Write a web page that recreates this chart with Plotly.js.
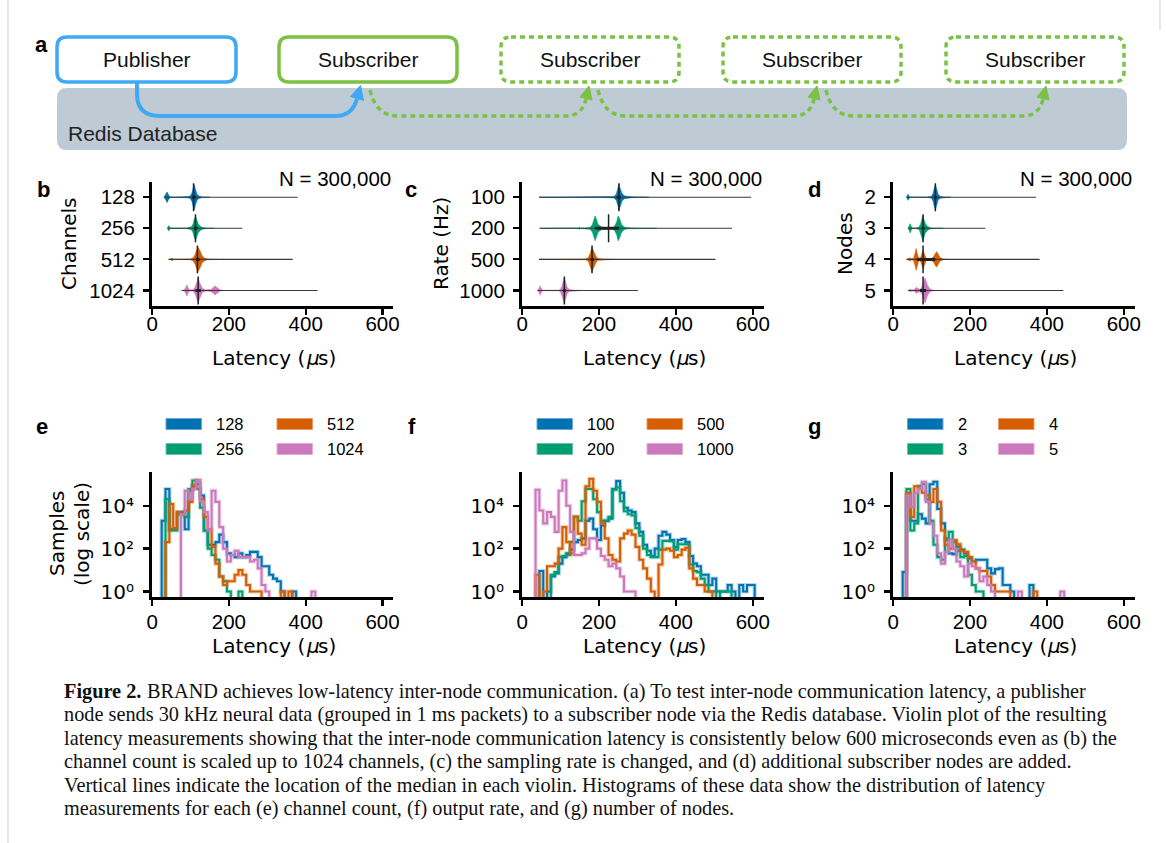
<!DOCTYPE html>
<html><head><meta charset="utf-8">
<script src="https://cdn.plot.ly/plotly-3.0.1.min.js"></script>
<style>html,body{margin:0;padding:0;background:#fff}#chart{width:1166px;height:843px}</style>
</head><body><div id="chart"></div>
<script>
const W = 1166, H = 843;
const palette = ['#0173B2', '#029E73', '#D55E00', '#CC78BC'];
const paletteEdge = ['#6aa6d0', '#68c3a6', '#e89a6a', '#e0acd6'];

// ---------- Violin panel b (channels) ----------
const channelCats = ['128', '256', '512', '1024'];
const channelMedian = [108, 113, 118, 120];
const channelQ1 = [104, 109, 114, 113];
const channelQ3 = [114, 118, 124, 127];
const channelMin = [31, 40, 43, 77];
const channelMax = [379, 235, 366, 431];
const channelProfileX = [
  [31, 35, 39, 43, 47, 60, 80, 95, 100, 104, 107, 110, 113, 117, 122, 130, 150],
  [40, 43.5, 47, 60, 90, 103, 107, 110, 113, 116, 120, 125, 131, 140, 160],
  [43.5, 49, 52, 55, 70, 100, 107, 112, 116, 120, 124, 130, 137, 145, 170],
  [77, 84, 88, 90.5, 93, 97, 105, 111, 116, 120, 124, 131, 140, 153, 160, 164, 168, 177, 190]
];
const channelProfileW = [
  [0, 0.07, 0.17, 0.07, 0.01, 0.005, 0.01, 0.02, 0.05, 0.14, 0.3, 0.4, 0.25, 0.1, 0.04, 0.01, 0],
  [0, 0.09, 0.005, 0.004, 0.01, 0.05, 0.15, 0.3, 0.38, 0.28, 0.15, 0.07, 0.03, 0.01, 0],
  [0, 0.01, 0.05, 0.005, 0.003, 0.01, 0.05, 0.15, 0.3, 0.38, 0.3, 0.12, 0.04, 0.01, 0],
  [0, 0.02, 0.1, 0.18, 0.1, 0.02, 0.02, 0.08, 0.25, 0.4, 0.25, 0.06, 0.02, 0.03, 0.1, 0.15, 0.1, 0.02, 0]
];

// ---------- Violin panel c (rate) ----------
const rateCats = ['100', '200', '500', '1000'];
const rateMedian = [252, 225, 182, 110];
const rateQ1 = [246, 190, 178, 106];
const rateQ3 = [257, 252, 187, 114];
const rateMin = [44, 46, 44, 40];
const rateMax = [596, 546, 503, 301];
const rateProfileX = [
  [44, 100, 200, 239, 245, 249, 252, 255, 260, 266, 272, 285, 307, 330],
  [46, 140, 146, 149, 152, 165, 177, 183, 187, 190, 193, 198, 207, 215, 235, 240, 246, 250, 254, 259, 266, 275, 300, 350],
  [44, 120, 165, 172, 177, 180, 182, 184, 188, 193, 198, 210, 240],
  [40, 44, 47, 50, 54, 70, 95, 100, 104, 107, 110, 113, 117, 123, 135, 160]
];
const rateProfileW = [
  [0, 0.002, 0.003, 0.02, 0.1, 0.25, 0.42, 0.28, 0.12, 0.05, 0.03, 0.015, 0.005, 0],
  [0, 0.003, 0.01, 0.03, 0.01, 0.01, 0.03, 0.12, 0.28, 0.4, 0.3, 0.12, 0.04, 0.02, 0.02, 0.06, 0.2, 0.4, 0.3, 0.12, 0.04, 0.015, 0.005, 0],
  [0, 0.002, 0.01, 0.05, 0.18, 0.32, 0.4, 0.33, 0.2, 0.08, 0.03, 0.01, 0],
  [0, 0.06, 0.15, 0.06, 0.005, 0.004, 0.01, 0.04, 0.15, 0.3, 0.4, 0.28, 0.1, 0.03, 0.01, 0]
];

// ---------- Violin panel d (nodes) ----------
const nodeCats = ['2', '3', '4', '5'];
const nodeMedian = [110, 78, 78, 78];
const nodeQ1 = [106, 74, 62, 70];
const nodeQ3 = [114, 82, 110, 86];
const nodeMin = [35, 39, 35, 39];
const nodeMax = [372, 240, 381, 443];
const nodeProfileX = [
  [35, 37, 39, 41, 44, 60, 90, 100, 104, 107, 110, 113, 117, 122, 130, 150],
  [39, 42, 44.6, 47, 50, 60, 68, 72, 75, 77, 80, 84, 90, 96, 105, 130],
  [35, 40, 43.5, 47, 53, 57, 60, 63, 67, 71, 74, 78, 82, 86, 92, 100, 106, 110, 113, 117, 122, 130, 140],
  [39, 42, 45, 48, 55, 58, 61, 64, 70, 74, 78, 81, 83, 86, 90, 95, 100, 110, 130]
];
const nodeProfileW = [
  [0, 0.05, 0.1, 0.05, 0.005, 0.003, 0.005, 0.03, 0.12, 0.28, 0.4, 0.28, 0.1, 0.03, 0.01, 0],
  [0, 0.07, 0.15, 0.07, 0.01, 0.01, 0.04, 0.15, 0.3, 0.4, 0.3, 0.15, 0.06, 0.02, 0.005, 0],
  [0, 0.02, 0.05, 0.02, 0.03, 0.18, 0.35, 0.18, 0.03, 0.04, 0.15, 0.3, 0.15, 0.04, 0.02, 0.03, 0.1, 0.2, 0.25, 0.18, 0.06, 0.01, 0],
  [0, 0.02, 0.04, 0.02, 0.02, 0.07, 0.1, 0.06, 0.04, 0.08, 0.2, 0.33, 0.4, 0.3, 0.15, 0.06, 0.02, 0.005, 0]
];

// ---------- Histograms (10 us bins, first bin starts at 25 us) ----------
const binStart = 25, binWidth = 10;
const histCh128 = [2000,60000,800,800,5000,5000,800,50000,80000,100000,30000,700,150,150,200,450,200,60,50,40,60,40,50,70,70,40,15,15,6,4,3,1,0,0,1];
const histCh256 = [0,20000,700,700,4000,4000,3000,60000,150000,60000,8000,700,100,50,30,5,3,1,0,0,1];
const histCh512 = [0,200,12000,900,5000,4000,6000,15000,90000,150000,20000,3000,800,120,20,5,2,3,3,6,10,6,2,1,1,1,0,0,0,0,0,1,0,1];
const histCh1024 = [0,0,0,0,0,4000,50000,20000,60000,150000,16000,5000,700,50000,15000,1000,100,25,50,80,40,40,40,25,30,12,2,1,0,0,0,0,0,0,0,0,0,0,0,1];

const histRate100 = [0,0,9,0,1,5,7,20,40,60,90,200,250,300,2000,2500,800,250,1200,2000,2500,60000,140000,40000,8000,6000,5000,1500,600,150,80,45,100,400,600,450,250,120,250,280,200,45,20,15,6,6,2,4,1,1,1,2,1,0,2,1,2,2];
const histRate200 = [0,0,0,0,0,6,8,40,45,50,200,3000,2000,16000,60000,60000,20000,5000,2000,2000,3000,55000,70000,16000,5500,4000,3500,900,400,100,50,40,40,90,230,230,220,90,160,160,160,18,9,8,4,2,1,1,0,1,1,1];
const histRate500 = [0,6,0,1,15,15,20,100,1000,200,60,3000,500,150,80000,180000,50000,15000,1500,300,50,30,25,300,500,700,450,120,30,12,4,1,0,18,90,100,80,40,50,90,110,12,4,2,2,1,1];
const histRate1000 = [0,55000,6000,1500,5000,3000,600,50000,150000,10000,600,50,50,60,100,300,300,100,45,30,15,20,12,5,1,1,1];

const histNode2 = [8,30000,2000,2000,4000,2500,1500,100000,130000,7000,1500,250,60,55,120,90,60,35,25,30,30,30,12,7,11,12,2,2,1,0,0,0,0,2];
const histNode3 = [0,60000,700,1500,80000,100000,20000,2000,150,40,30,300,600,200,80,40,45,6,2,1,1];
const histNode4 = [0,40000,3000,80000,60000,40000,30000,15000,60000,15000,700,150,100,250,160,80,70,40,25,12,9,9,5,2,1,1,1,1,0,0,0,0,0,0,1];
const histNode5 = [0,30000,9000,40000,60000,130000,15000,1500,400,60,20,70,250,100,25,15,5,20,15,12,3,5,2,1,0,0,0,0,0,0,1,0,0,0,0,0,0,0,0,0,0,1];

const latencyTicks = [0, 200, 400, 600];
const countTicks = [1, 100, 10000];
const countTickText = ['10\u2070', '10\u00B2', '10\u2074'];

// ---------- build traces ----------
const data = [];

function violinPanel(ax, cats, px, pw, mins, maxs, q1, q3, med) {
  const xa = 'x' + ax, ya = 'y' + ax;
  cats.forEach((c, i) => {
    const xs = px[i].concat(px[i].slice().reverse());
    const ys = pw[i].map(w => i - w).concat(pw[i].slice().reverse().map(w => i + w));
    data.push({type: 'scatter', mode: 'lines', x: xs, y: ys, fill: 'toself',
      fillcolor: palette[i], line: {color: palette[i], width: 0.6},
      xaxis: xa, yaxis: ya, hoverinfo: 'skip'});
  });
  cats.forEach((c, i) => {
    data.push({type: 'scatter', mode: 'lines', x: [mins[i], maxs[i]], y: [i, i],
      line: {color: '#3a3a3a', width: 1.1}, xaxis: xa, yaxis: ya, hoverinfo: 'skip'});
    data.push({type: 'scatter', mode: 'lines', x: [q1[i], q3[i]], y: [i, i],
      line: {color: '#222', width: 3}, xaxis: xa, yaxis: ya, hoverinfo: 'skip'});
    data.push({type: 'scatter', mode: 'lines', x: [med[i], med[i]], y: [i - 0.45, i + 0.45],
      line: {color: '#222', width: 1.5}, xaxis: xa, yaxis: ya, hoverinfo: 'skip'});
  });
}
violinPanel(1, channelCats, channelProfileX, channelProfileW, channelMin, channelMax, channelQ1, channelQ3, channelMedian);
violinPanel(2, rateCats, rateProfileX, rateProfileW, rateMin, rateMax, rateQ1, rateQ3, rateMedian);
violinPanel(3, nodeCats, nodeProfileX, nodeProfileW, nodeMin, nodeMax, nodeQ1, nodeQ3, nodeMedian);

const FLOOR = 1e-3;
function histPanel(ax, series) {
  series.forEach((counts, i) => {
    const edges = [];
    for (let k = 0; k <= counts.length; k++) edges.push(binStart + k * binWidth);
    const xs = [edges[0]].concat(edges);
    const ys = [FLOOR].concat(counts.map(c => c > 0 ? c : FLOOR)).concat([FLOOR]);
    data.push({type: 'scatter', mode: 'lines', x: xs, y: ys, line: {shape: 'hv', color: palette[i], width: 4.2},
      opacity: 0.28, xaxis: 'x' + ax, yaxis: 'y' + ax, hoverinfo: 'skip'});
    data.push({type: 'scatter', mode: 'lines', x: xs, y: ys, line: {shape: 'hv', color: palette[i], width: 2.1},
      xaxis: 'x' + ax, yaxis: 'y' + ax, hoverinfo: 'skip'});
  });
}
histPanel(4, [histCh128, histCh256, histCh512, histCh1024]);
histPanel(5, [histRate100, histRate200, histRate500, histRate1000]);
histPanel(6, [histNode2, histNode3, histNode4, histNode5]);

// ---------- layout ----------
const tickFont = {family: 'Liberation Sans, Arial, sans-serif', size: 20.5, color: '#000'};
function xAxis(x0, x1, anchor, standoff) {
  return {domain: [x0 / W, x1 / W], anchor: anchor, range: [-1.5, 628], tickmode: 'array', tickvals: latencyTicks,
    ticks: 'outside', ticklen: 6, tickwidth: 2.2, tickcolor: '#000', showline: true, linewidth: 2.5,
    linecolor: '#000', showgrid: false, zeroline: false, tickfont: tickFont, ticklabelstandoff: standoff,
    fixedrange: true};
}
function yViolin(top, bottom, anchor, cats) {
  return {domain: [1 - bottom / H, 1 - top / H], anchor: anchor, range: [3.5, -0.5], tickmode: 'array',
    tickvals: cats.map((c, i) => i), ticktext: cats, ticks: 'outside', ticklen: 6, tickwidth: 2.2,
    tickcolor: '#000', showline: true, linewidth: 2.5, linecolor: '#000', showgrid: false, zeroline: false,
    tickfont: tickFont, ticklabelstandoff: 4, fixedrange: true};
}
function yHist(top, bottom, anchor) {
  return {domain: [1 - bottom / H, 1 - top / H], anchor: anchor, type: 'log', range: [-0.27, 5.57],
    tickmode: 'array', tickvals: countTicks, ticktext: countTickText, ticks: 'outside', ticklen: 6,
    tickwidth: 2.2, tickcolor: '#000', showline: true, linewidth: 2.5, linecolor: '#000', showgrid: false,
    zeroline: false, tickfont: {family: 'DejaVu Sans, sans-serif', size: 20, color: '#000'},
    ticklabelstandoff: 5, fixedrange: true};
}

const colX = [[151.5, 393.3], [521.5, 763.5], [892.5, 1134.5]];
const violinRow = [181.7, 306];
const histRow = [472, 597.3];

const layout = {
  width: W, height: H, margin: {l: 0, r: 0, t: 0, b: 0}, paper_bgcolor: '#fff', plot_bgcolor: 'rgba(0,0,0,0)',
  showlegend: false, font: {family: 'Liberation Sans, Arial, sans-serif', color: '#000'},
  xaxis: xAxis(colX[0][0], colX[0][1], 'y', -8), yaxis: yViolin(violinRow[0], violinRow[1], 'x', channelCats),
  xaxis2: xAxis(colX[1][0], colX[1][1], 'y2', -8), yaxis2: yViolin(violinRow[0], violinRow[1], 'x2', rateCats),
  xaxis3: xAxis(colX[2][0], colX[2][1], 'y3', -8), yaxis3: yViolin(violinRow[0], violinRow[1], 'x3', nodeCats),
  xaxis4: xAxis(colX[0][0], colX[0][1], 'y4', -1), yaxis4: yHist(histRow[0], histRow[1], 'x4'),
  xaxis5: xAxis(colX[1][0], colX[1][1], 'y5', -1), yaxis5: yHist(histRow[0], histRow[1], 'x5'),
  xaxis6: xAxis(colX[2][0], colX[2][1], 'y6', -1), yaxis6: yHist(histRow[0], histRow[1], 'x6'),
  shapes: [], annotations: []
};

// pixel helpers (paper coords)
const PX = x => x / W, PY = y => 1 - y / H;
const P = (x, y) => PX(x).toFixed(5) + ',' + PY(y).toFixed(5);
function rr(x0, y0, x1, y1, r) {
  return `M${P(x0 + r, y0)} L${P(x1 - r, y0)} Q${P(x1, y0)} ${P(x1, y0 + r)} L${P(x1, y1 - r)} Q${P(x1, y1)} ${P(x1 - r, y1)} ` +
    `L${P(x0 + r, y1)} Q${P(x0, y1)} ${P(x0, y1 - r)} L${P(x0, y0 + r)} Q${P(x0, y0)} ${P(x0 + r, y0)} Z`;
}
function txt(text, x, y, opts) {
  layout.annotations.push(Object.assign({text: text, x: PX(x), y: PY(y), xref: 'paper', yref: 'paper',
    showarrow: false, xanchor: 'center', yanchor: 'middle',
    font: {family: 'Liberation Sans, Arial, sans-serif', size: 20, color: '#000'}}, opts || {}));
}
const S = layout.shapes;

// page border lines
S.push({type: 'line', xref: 'paper', yref: 'paper', x0: PX(8), x1: PX(8), y0: 0, y1: 1, line: {color: '#d0d0d0', width: 1}});
S.push({type: 'line', xref: 'paper', yref: 'paper', x0: PX(1160), x1: PX(1160), y0: PY(0), y1: PY(30), line: {color: '#d0d0d0', width: 1}});

// ---------- panel a diagram ----------
const blue = '#3FA9F5', green = '#7BC143';
S.push({type: 'path', xref: 'paper', yref: 'paper', path: rr(57, 88, 1127, 150, 10), fillcolor: '#BECBD4', line: {width: 0}});
S.push({type: 'path', xref: 'paper', yref: 'paper', path: rr(57, 37, 236, 82, 10), fillcolor: '#fff', line: {color: blue, width: 3.5}});
S.push({type: 'path', xref: 'paper', yref: 'paper', path: rr(279, 37, 457, 82, 10), fillcolor: '#fff', line: {color: green, width: 3.5}});
[501, 723, 946].forEach(x0 => {
  S.push({type: 'path', xref: 'paper', yref: 'paper', path: rr(x0, 37, x0 + 178, 82, 10), fillcolor: '#fff',
    line: {color: green, width: 3.5, dash: '5px,4px'}});
});
// blue arrow
S.push({type: 'path', xref: 'paper', yref: 'paper',
  path: `M${P(137, 82)} L${P(137, 94)} Q${P(137, 116)} ${P(160, 116)} L${P(336, 116)} Q${P(352, 116)} ${P(357, 99)}`,
  line: {color: blue, width: 4}});
S.push({type: 'path', xref: 'paper', yref: 'paper', path: `M${P(360.5, 85.5)} L${P(363.5, 100.5)} L${P(350.5, 96.5)} Z`,
  fillcolor: blue, line: {color: blue, width: 1}});
// green dotted arrows
[[370, 590], [598, 818], [826, 1047]].forEach(([s, t]) => {
  S.push({type: 'path', xref: 'paper', yref: 'paper',
    path: `M${P(s, 90)} Q${P(s + 6, 116)} ${P(s + 28, 116)} L${P(t - 24, 116)} Q${P(t - 8, 116)} ${P(t - 4, 99)}`,
    line: {color: green, width: 3.5, dash: '5px,4px'}});
  S.push({type: 'path', xref: 'paper', yref: 'paper', path: `M${P(t - 1, 86)} L${P(t + 2, 100)} L${P(t - 10, 97)} Z`,
    fillcolor: green, line: {color: green, width: 1}});
});
const boxFont = {family: 'Liberation Sans, Arial, sans-serif', size: 21, color: '#111'};
txt('Publisher', 146.5, 60, {font: boxFont});
[368, 590, 812, 1035].forEach(x => txt('Subscriber', x, 60, {font: boxFont}));
txt('Redis Database', 66, 133, {xanchor: 'left', font: {family: 'Liberation Sans, Arial, sans-serif', size: 21, color: '#222'}});

// ---------- panel labels ----------
const bold = {family: 'Liberation Sans, Arial, sans-serif', size: 22, color: '#000', weight: 700};
[['a', 41, 44], ['b', 43, 189], ['c', 411, 189], ['d', 814, 189], ['e', 42, 426], ['f', 412, 426], ['g', 814, 426]]
  .forEach(([t, x, y]) => txt(t, x, y, {font: bold}));

// N = 300,000
[393, 764, 1134].forEach(x => txt('N = 300,000', x, 178, {xanchor: 'right', font: {family: 'Liberation Sans, Arial, sans-serif', size: 20.5, color: '#000'}}));

// axis titles: "Latency (" + italic mu + "s)"
const titleFont = {family: 'DejaVu Sans, sans-serif', size: 20, color: '#000'};
const titleItalic = {family: 'DejaVu Sans, sans-serif', size: 20, color: '#000', style: 'italic'};
function latencyTitle(cx, y) {
  const left = cx - 62;
  txt('Latency (', left, y, {xanchor: 'left', font: titleFont});
  txt('μ', left + 93.2, y, {xanchor: 'left', font: titleItalic});
  txt('s)', left + 105.9, y, {xanchor: 'left', font: titleFont});
}
colX.forEach(([a, b]) => {
  latencyTitle((a + b) / 2, 358);
  latencyTitle((a + b) / 2, 646);
});
txt('Channels', 69, 244, {textangle: -90, font: titleFont});
txt('Rate (Hz)', 441, 244, {textangle: -90, font: titleFont});
txt('Nodes', 845, 244, {textangle: -90, font: titleFont});
txt('Samples', 57, 534, {textangle: -90, font: titleFont});
txt('(log scale)', 82, 534, {textangle: -90, font: titleFont});

// ---------- manual legends ----------
function legend(cats, c1, c2) {
  const cols = [c1, c2], rows = [424, 449];
  cats.forEach((c, i) => {
    const col = cols[Math.floor(i / 2)], row = rows[i % 2];
    S.push({type: 'rect', xref: 'paper', yref: 'paper', x0: PX(col), x1: PX(col + 35.5), y0: PY(row + 5.5), y1: PY(row - 5.5),
      fillcolor: palette[i], line: {color: paletteEdge[i], width: 1}});
    txt(c, col + 48, row, {xanchor: 'left', font: {family: 'Liberation Sans, Arial, sans-serif', size: 16.5, color: '#000'}});
  });
}
legend(channelCats, 166, 277);
legend(rateCats, 537, 647);
legend(nodeCats, 907.5, 998.5);

// ---------- caption ----------
const captionFont = {family: 'Liberation Serif, Times New Roman, serif', size: 20.3, color: '#111'};
const captionBold = {family: 'Liberation Serif, Times New Roman, serif', size: 20.3, color: '#111', weight: 700};
const captionLines = [
  'BRAND achieves low-latency inter-node communication. (a) To test inter-node communication latency, a publisher',
  'node sends 30 kHz neural data (grouped in 1 ms packets) to a subscriber node via the Redis database. Violin plot of the resulting',
  'latency measurements showing that the inter-node communication latency is consistently below 600 microseconds even as (b) the',
  'channel count is scaled up to 1024 channels, (c) the sampling rate is changed, and (d) additional subscriber nodes are added.',
  'Vertical lines indicate the location of the median in each violin. Histograms of these data show the distribution of latency',
  'measurements for each (e) channel count, (f) output rate, and (g) number of nodes.'
];
txt('Figure 2.', 62, 691, {xanchor: 'left', font: captionBold});
captionLines.forEach((line, i) => txt(line, i === 0 ? 145 : 62, 691 + i * 23.5, {xanchor: 'left', font: captionFont}));

Plotly.newPlot('chart', data, layout, {staticPlot: true, displayModeBar: false});
</script>
</body></html>
